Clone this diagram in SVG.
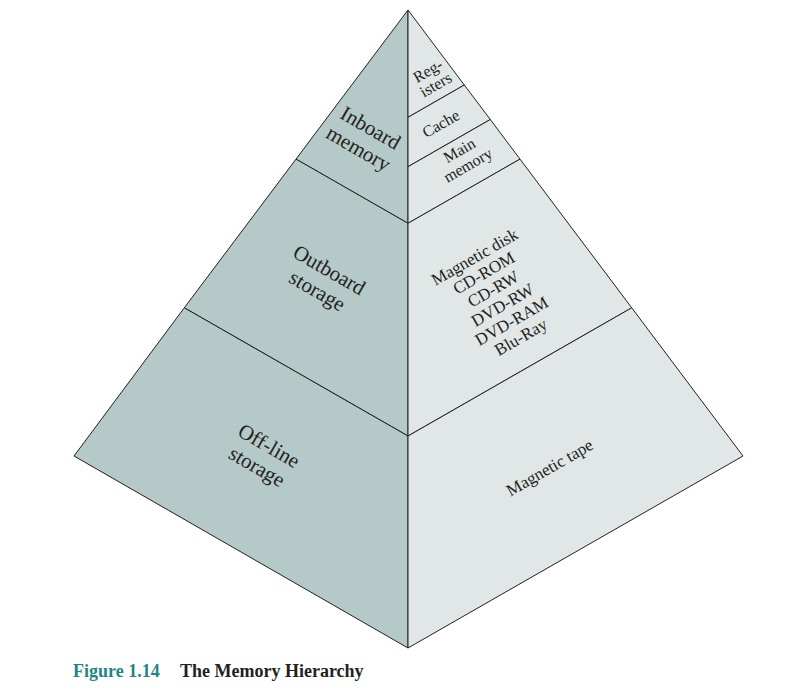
<svg xmlns="http://www.w3.org/2000/svg" width="794" height="696" viewBox="0 0 794 696">
  <style>
    .left { fill: #b5c9c8; stroke: #231f20; stroke-width: 1; stroke-linejoin: miter; }
    .right { fill: #e1e7e7; stroke: #231f20; stroke-width: 1; stroke-linejoin: miter; }
    .big { font-family: "Liberation Serif", "Times New Roman", serif; font-size: 21px; fill: #231f20; text-anchor: middle; }
    .mid { font-family: "Liberation Serif", "Times New Roman", serif; font-size: 17px; fill: #231f20; text-anchor: middle; }
    .small { font-family: "Liberation Serif", "Times New Roman", serif; font-size: 16px; fill: #231f20; text-anchor: middle; }
    .cap { font-family: "Liberation Serif", "Times New Roman", serif; font-size: 18px; font-weight: bold; }
  </style>

  <!-- Left face: broad categories -->
  <g id="inboard-memory">
    <polygon class="left" points="408,10 296,159.1 408,223.3"/>
    <g transform="translate(364,139) rotate(30)">
      <text class="big" x="0" y="-6">Inboard</text>
      <text class="big" x="0" y="18">memory</text>
    </g>
  </g>
  <g id="outboard-storage">
    <polygon class="left" points="296,159.1 184.3,307.8 408,436 408,223.3"/>
    <g transform="translate(322.8,281.2) rotate(30)">
      <text class="big" x="0" y="-6">Outboard</text>
      <text class="big" x="0" y="18">storage</text>
    </g>
  </g>
  <g id="offline-storage">
    <polygon class="left" points="184.3,307.8 74,456 408,648 408,436"/>
    <g transform="translate(262.5,457) rotate(30)">
      <text class="big" x="0" y="-6">Off-line</text>
      <text class="big" x="0" y="18">storage</text>
    </g>
  </g>

  <!-- Right face: concrete technologies -->
  <g id="registers">
    <polygon class="right" points="408,10 464.3,85 408,117.3"/>
    <g transform="translate(432,78) rotate(-30)">
      <text class="small" x="0" y="-3">Reg-</text>
      <text class="small" x="0" y="13">isters</text>
    </g>
  </g>
  <g id="cache">
    <polygon class="right" points="408,117.3 464.3,85 490.3,119.5 408,166.7"/>
    <text class="small" transform="translate(441,124) rotate(-30)" x="0" y="5">Cache</text>
  </g>
  <g id="main-memory">
    <polygon class="right" points="408,166.7 490.3,119.5 520,159.1 408,223.3"/>
    <g transform="translate(464,158.5) rotate(-30)">
      <text class="small" x="0" y="-4">Main</text>
      <text class="small" x="0" y="13">memory</text>
    </g>
  </g>
  <g id="outboard-devices">
    <polygon class="right" points="408,223.3 520,159.1 631.7,307.8 408,436"/>
    <g transform="translate(475,257.5) rotate(-30)">
      <text class="mid" x="0" y="5">Magnetic disk</text>
      <text class="mid" x="0" y="23.5">CD-ROM</text>
      <text class="mid" x="0" y="42">CD-RW</text>
      <text class="mid" x="0" y="60.5">DVD-RW</text>
      <text class="mid" x="0" y="79">DVD-RAM</text>
      <text class="mid" x="0" y="97.5">Blu-Ray</text>
    </g>
  </g>
  <g id="magnetic-tape">
    <polygon class="right" points="408,436 631.7,307.8 743,456 408,648"/>
    <text class="mid" transform="translate(550.5,469) rotate(-30)" x="0" y="4">Magnetic tape</text>
  </g>

  <!-- Caption -->
  <g id="caption">
    <text class="cap" x="73" y="677" fill="#1f8585">Figure 1.14</text>
    <text class="cap" x="180" y="677" fill="#231f20">The Memory Hierarchy</text>
  </g>
</svg>
